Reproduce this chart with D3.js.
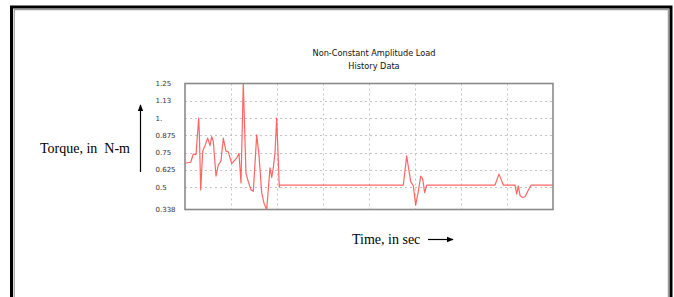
<!DOCTYPE html>
<html>
<head>
<meta charset="utf-8">
<script src="https://cdn.jsdelivr.net/npm/d3@7"></script>
<style>
  html, body { margin: 0; padding: 0; background: #fff; }
  svg { display: block; }
</style>
</head>
<body>
<svg id="chart" width="674" height="297"></svg>
<script>
// load history (x in grid units, 0..8)
const timeVals = [0.0, 0.124, 0.18, 0.239, 0.298, 0.311, 0.341, 0.385, 0.435, 0.493,
  0.543, 0.58, 0.615, 0.674, 0.724, 0.783, 0.833, 0.891, 0.941, 1.015,
  1.124, 1.174, 1.217, 1.267, 1.326, 1.376, 1.435, 1.485, 1.559, 1.609,
  1.667, 1.717, 1.776, 1.848, 1.885, 1.92, 1.957, 1.993, 2.05, 2.065,
  4.746, 4.82, 4.854, 4.907, 4.963, 5.015, 5.072, 5.124, 5.167, 5.211,
  5.254, 6.739, 6.826, 6.92, 7.174, 7.211, 7.246, 7.283, 7.341, 7.391,
  7.522, 8.0];
const torqueVals = [0.673, 0.68, 0.74, 0.735, 1.0, 0.9, 0.48, 0.76, 0.8, 0.855,
  0.8, 0.865, 0.83, 0.58, 0.66, 0.69, 0.855, 0.76, 0.755, 0.67,
  0.71, 0.745, 0.53, 1.25, 0.6, 0.54, 0.48, 0.47, 0.878, 0.73,
  0.46, 0.384, 0.338, 0.64, 0.57, 0.64, 0.75, 1.0, 0.5, 0.515,
  0.515, 0.726, 0.65, 0.54, 0.51, 0.37, 0.47, 0.58, 0.56, 0.46,
  0.515, 0.515, 0.594, 0.515, 0.515, 0.45, 0.51, 0.44, 0.425, 0.43,
  0.515, 0.515];

const yTickVals = [0.338, 0.5, 0.625, 0.75, 0.875, 1, 1.125, 1.25];
const yTickLabels = ["0.338", "0.5", "0.625", "0.75", "0.875", "1.", "1.13", "1.25"];
const xGridVals = [1, 2, 3, 4, 5, 6, 7];

const titleLines = ["Non-Constant Amplitude Load", "History Data"];

const svg = d3.select("#chart");

// page frame
svg.append("path")
    .attr("d", "M11.5,300 V7 H671 V300")
    .attr("fill", "none")
    .attr("stroke", "#000")
    .attr("stroke-width", 3);
svg.append("path")
    .attr("d", "M14.2,300 V9.6 H668.4 V300")
    .attr("fill", "none")
    .attr("stroke", "#999")
    .attr("stroke-width", 1.2);

const x = d3.scaleLinear().domain([0, 8]).range([185, 553]);
const y = d3.scaleLinear().domain([0.338, 1.25]).range([209.5, 83.5]);

// grid
const grid = svg.append("g")
    .attr("stroke", "#c4c4c4")
    .attr("stroke-width", 1)
    .attr("stroke-dasharray", "2,3");
grid.selectAll("line.h")
    .data(yTickVals.slice(1, -1))
    .enter().append("line")
    .attr("x1", x(0)).attr("x2", x(8))
    .attr("y1", d => Math.round(y(d)) + 0.5)
    .attr("y2", d => Math.round(y(d)) + 0.5);
grid.selectAll("line.v")
    .data(xGridVals)
    .enter().append("line")
    .attr("y1", y(1.25)).attr("y2", y(0.338))
    .attr("x1", d => Math.round(x(d)) + 0.5)
    .attr("x2", d => Math.round(x(d)) + 0.5);

// y labels
svg.append("g")
    .selectAll("text")
    .data(yTickVals)
    .enter().append("text")
    .attr("x", 155.5)
    .attr("y", d => y(d) + 2.5)
    .attr("font-family", "DejaVu Sans, Verdana, sans-serif")
    .attr("font-size", 7)
    .attr("fill", "#333")
    .text((d, i) => yTickLabels[i]);

// series
const pts = timeVals.map((t, i) => [t, torqueVals[i]]);
const line = d3.line().x(d => x(d[0])).y(d => y(d[1]));
svg.append("path")
    .datum(pts)
    .attr("d", line)
    .attr("fill", "none")
    .attr("stroke", "#ff4a4a")
    .attr("stroke-opacity", 0.85)
    .attr("stroke-width", 1.2)
    .attr("stroke-linejoin", "round");

// plot frame
svg.append("rect")
    .attr("x", x(0)).attr("y", y(1.25))
    .attr("width", x(8) - x(0))
    .attr("height", y(0.338) - y(1.25))
    .attr("fill", "none")
    .attr("stroke", "#8a8a8a")
    .attr("stroke-width", 1.6);

// title
svg.append("g")
    .selectAll("text")
    .data(titleLines)
    .enter().append("text")
    .attr("x", 374)
    .attr("y", (d, i) => 56 + i * 13)
    .attr("text-anchor", "middle")
    .attr("font-family", "DejaVu Sans, Verdana, sans-serif")
    .attr("font-size", 8.2)
    .attr("fill", "#111")
    .text(d => d);

// axis captions
svg.append("text")
    .attr("x", 40).attr("y", 153)
    .attr("font-family", "Liberation Serif, Times New Roman, serif")
    .attr("font-size", 14)
    .attr("fill", "#000")
    .attr("xml:space", "preserve")
    .text("Torque, in  N-m");

svg.append("text")
    .attr("x", 352).attr("y", 244)
    .attr("font-family", "Liberation Serif, Times New Roman, serif")
    .attr("font-size", 14)
    .attr("fill", "#000")
    .text("Time, in sec");

// arrows
const defs = svg.append("defs");
defs.append("marker")
    .attr("id", "head")
    .attr("viewBox", "0 0 10 10")
    .attr("refX", 9).attr("refY", 5)
    .attr("markerWidth", 7).attr("markerHeight", 7)
    .attr("markerUnits", "userSpaceOnUse")
    .attr("orient", "auto")
    .append("path")
    .attr("d", "M0,1 L10,5 L0,9 Z")
    .attr("fill", "#000");

svg.append("line")
    .attr("x1", 140.5).attr("y1", 172)
    .attr("x2", 140.5).attr("y2", 105)
    .attr("stroke", "#000").attr("stroke-width", 1.2)
    .attr("marker-end", "url(#head)");

svg.append("line")
    .attr("x1", 428).attr("y1", 239.5)
    .attr("x2", 453).attr("y2", 239.5)
    .attr("stroke", "#000").attr("stroke-width", 1.2)
    .attr("marker-end", "url(#head)");
</script>
</body>
</html>
